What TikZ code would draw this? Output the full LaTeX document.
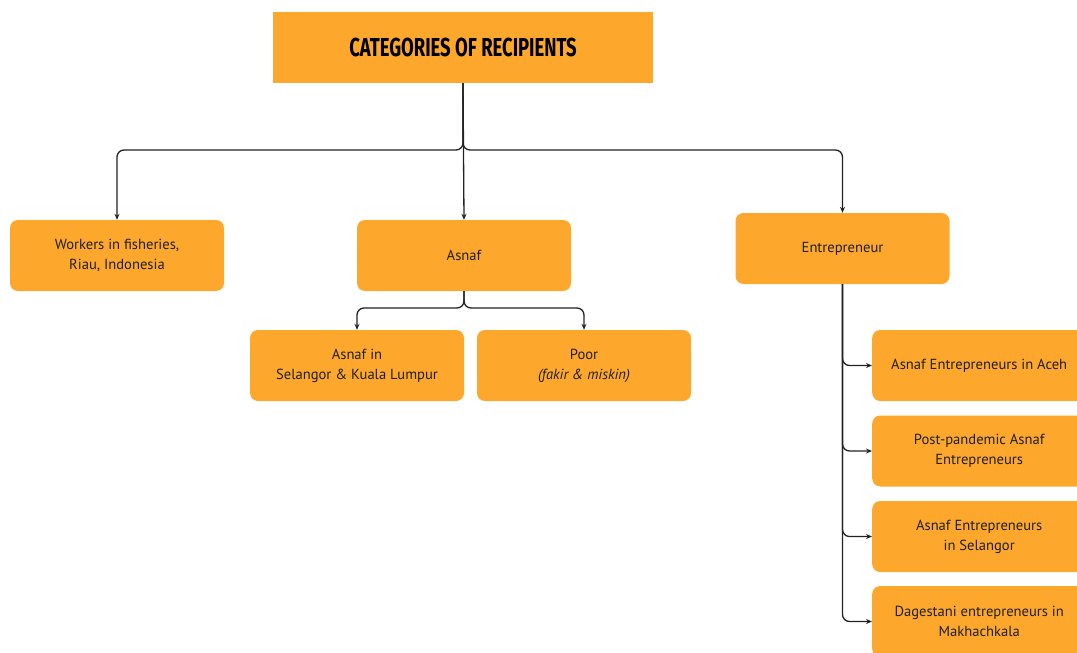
\documentclass[tikz,border=0pt]{standalone}
\usepackage{fontspec}
\setmainfont{PT Sans}
\newfontfamily\titlefont[FakeStretch=0.71]{Fira Sans}
\usetikzlibrary{arrows.meta}
\definecolor{boxorange}{HTML}{FDA82D}
\definecolor{linegray}{HTML}{222222}
\tikzset{
  x=1pt,y=-1pt,
  box/.style={fill=boxorange,rounded corners=8pt,minimum width=214pt,minimum height=71pt,
    align=center,font=\fontsize{14.6}{20}\selectfont,text=black!88,inner sep=0pt},
  conn/.style={draw=linegray,line width=1.3pt,rounded corners=7pt,-{Stealth[length=6pt,width=5pt]}}
}
\begin{document}
\begin{tikzpicture}
\useasboundingbox (0,0) rectangle (1077,653);
\clip (0,0) rectangle (1077,653);
\node[fill=boxorange,minimum width=380pt,minimum height=71pt,inner sep=0pt,
  font=\titlefont\bfseries\fontsize{26}{30}\selectfont] (title) at (463,47.5) {CATEGORIES OF RECIPIENTS};
\node[box] (work) at (117,255.5) {Workers in fisheries,\\ Riau, Indonesia};
\node[box] (asnaf) at (464,255.5) {Asnaf};
\node[box] (ent) at (842.5,248.5) {Entrepreneur};
\node[box] (sel) at (357,365.5) {Asnaf in\\ Selangor \& Kuala Lumpur};
\node[box] (poor) at (584,365.5) {Poor\\ \textit{(fakir \& miskin)}};
\node[box,anchor=west] (aceh) at (872,365.5) {Asnaf Entrepreneurs in Aceh};
\node[box,anchor=west] (post) at (872,451) {Post-pandemic Asnaf\\ Entrepreneurs};
\node[box,anchor=west] (asel) at (872,536.5) {Asnaf Entrepreneurs\\ in Selangor};
\node[box,anchor=west] (dag) at (872,621.5) {Dagestani entrepreneurs in\\ Makhachkala};
\coordinate (j1) at (463,150);
\coordinate (j2) at (464,308);
\draw[conn] (title.south) -- (j1) -| (work.north);
\draw[conn] (title.south) -- (j1) -| (ent.north);
\draw[conn] (title.south) -- (asnaf.north);
\draw[conn] (asnaf.south) -- (j2) -| (sel.north);
\draw[conn] (asnaf.south) -- (j2) -| (poor.north);
\draw[conn] (ent.south) |- (aceh.west);
\draw[conn] (ent.south) |- (post.west);
\draw[conn] (ent.south) |- (asel.west);
\draw[conn] (ent.south) |- (dag.west);
\end{tikzpicture}
\end{document}
